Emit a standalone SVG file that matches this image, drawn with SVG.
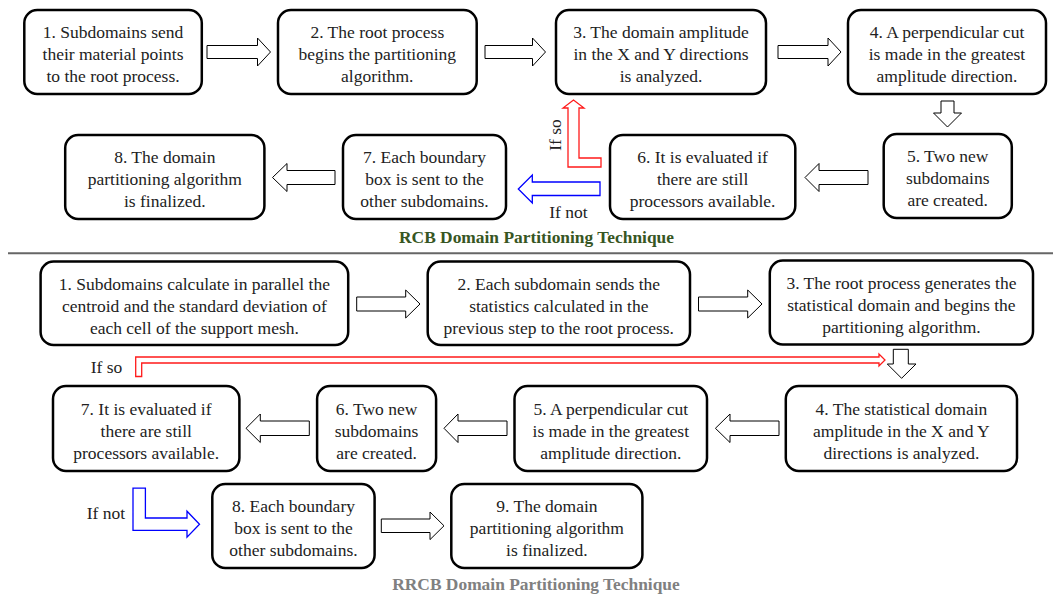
<svg xmlns="http://www.w3.org/2000/svg" width="1053" height="594" viewBox="0 0 1053 594">
<style>
.box{fill:#fff;stroke:#000;stroke-width:2.5}
.t{font-family:"Liberation Serif","Times New Roman",serif;font-size:17.5px;fill:#222;text-anchor:middle}
.l{font-family:"Liberation Serif","Times New Roman",serif;font-size:17.5px;fill:#222}
.arr{fill:#fff;stroke:#000;stroke-width:1}
.red{fill:#fff;stroke:#ff1a1a;stroke-width:1.3}
.blue{fill:#fff;stroke:#0000ff;stroke-width:1.3}
.title{font-family:"Liberation Serif","Times New Roman",serif;font-size:17.4px;font-weight:bold;text-anchor:middle}
</style>
<rect width="1053" height="594" fill="#fff"/>

<!-- RCB section -->
<g id="rcb1"><rect class="box" x="24.3" y="10" width="177.5" height="84" rx="13"/>
<text class="t"><tspan x="113" y="38">1. Subdomains send</tspan><tspan x="113" y="60">their material points</tspan><tspan x="113" y="82">to the root process.</tspan></text></g>
<g id="rcb2"><rect class="box" x="278" y="10" width="198.7" height="84" rx="13"/>
<text class="t"><tspan x="377.3" y="38">2. The root process</tspan><tspan x="377.3" y="60">begins the partitioning</tspan><tspan x="377.3" y="82">algorithm.</tspan></text></g>
<g id="rcb3"><rect class="box" x="556" y="10" width="210" height="84" rx="13"/>
<text class="t"><tspan x="661" y="38">3. The domain amplitude</tspan><tspan x="661" y="60">in the X and Y directions</tspan><tspan x="661" y="82">is analyzed.</tspan></text></g>
<g id="rcb4"><rect class="box" x="848" y="10" width="198" height="84" rx="13"/>
<text class="t"><tspan x="947" y="38">4. A perpendicular cut</tspan><tspan x="947" y="60">is made in the greatest</tspan><tspan x="947" y="82">amplitude direction.</tspan></text></g>
<g id="rcb5"><rect class="box" x="883.7" y="134" width="128.1" height="84" rx="13"/>
<text class="t"><tspan x="947.7" y="162">5. Two new</tspan><tspan x="947.7" y="184">subdomains</tspan><tspan x="947.7" y="206">are created.</tspan></text></g>
<g id="rcb6"><rect class="box" x="610" y="135" width="185.3" height="84" rx="13"/>
<text class="t"><tspan x="702.6" y="163">6. It is evaluated if</tspan><tspan x="702.6" y="185">there are still</tspan><tspan x="702.6" y="207">processors available.</tspan></text></g>
<g id="rcb7"><rect class="box" x="343" y="135" width="163" height="84" rx="13"/>
<text class="t"><tspan x="424.5" y="163">7. Each boundary</tspan><tspan x="424.5" y="185">box is sent to the</tspan><tspan x="424.5" y="207">other subdomains.</tspan></text></g>
<g id="rcb8"><rect class="box" x="65.2" y="135" width="199.2" height="84" rx="13"/>
<text class="t"><tspan x="164.8" y="163">8. The domain</tspan><tspan x="164.8" y="185">partitioning algorithm</tspan><tspan x="164.8" y="207">is finalized.</tspan></text></g>

<text class="title" x="536.5" y="242.5" fill="#375623">RCB Domain Partitioning Technique</text>
<line x1="8" y1="253.3" x2="1053" y2="253.3" stroke="#666" stroke-width="2"/>

<!-- RRCB section -->
<g id="rrcb1"><rect class="box" x="40.6" y="261.5" width="307.6" height="83.5" rx="13"/>
<text class="t"><tspan x="194.4" y="289.5">1. Subdomains calculate in parallel the</tspan><tspan x="194.4" y="311.5">centroid and the standard deviation of</tspan><tspan x="194.4" y="333.5">each cell of the support mesh.</tspan></text></g>
<g id="rrcb2"><rect class="box" x="427.7" y="261.5" width="262.3" height="83.5" rx="13"/>
<text class="t"><tspan x="558.8" y="289.5">2. Each subdomain sends the</tspan><tspan x="558.8" y="311.5">statistics calculated in the</tspan><tspan x="558.8" y="333.5">previous step to the root process.</tspan></text></g>
<g id="rrcb3"><rect class="box" x="769.8" y="260.5" width="263.2" height="84" rx="13"/>
<text class="t"><tspan x="901.4" y="289">3. The root process generates the</tspan><tspan x="901.4" y="311">statistical domain and begins the</tspan><tspan x="901.4" y="333">partitioning algorithm.</tspan></text></g>
<g id="rrcb4"><rect class="box" x="785.8" y="386" width="231.2" height="85" rx="13"/>
<text class="t"><tspan x="901.4" y="414.5">4. The statistical domain</tspan><tspan x="901.4" y="436.5">amplitude in the X and Y</tspan><tspan x="901.4" y="458.5">directions is analyzed.</tspan></text></g>
<g id="rrcb5"><rect class="box" x="514.5" y="386" width="192.5" height="85" rx="13"/>
<text class="t"><tspan x="610.8" y="414.5">5. A perpendicular cut</tspan><tspan x="610.8" y="436.5">is made in the greatest</tspan><tspan x="610.8" y="458.5">amplitude direction.</tspan></text></g>
<g id="rrcb6"><rect class="box" x="317.1" y="386" width="119" height="85" rx="13"/>
<text class="t"><tspan x="376.6" y="414.5">6. Two new</tspan><tspan x="376.6" y="436.5">subdomains</tspan><tspan x="376.6" y="458.5">are created.</tspan></text></g>
<g id="rrcb7"><rect class="box" x="53" y="386" width="186.4" height="85" rx="13"/>
<text class="t"><tspan x="146.2" y="414.5">7. It is evaluated if</tspan><tspan x="146.2" y="436.5">there are still</tspan><tspan x="146.2" y="458.5">processors available.</tspan></text></g>
<g id="rrcb8"><rect class="box" x="212.3" y="484" width="162.3" height="84" rx="13"/>
<text class="t"><tspan x="293.5" y="512">8. Each boundary</tspan><tspan x="293.5" y="534">box is sent to the</tspan><tspan x="293.5" y="556">other subdomains.</tspan></text></g>
<g id="rrcb9"><rect class="box" x="451.3" y="484" width="191.1" height="84" rx="13"/>
<text class="t"><tspan x="546.9" y="512">9. The domain</tspan><tspan x="546.9" y="534">partitioning algorithm</tspan><tspan x="546.9" y="556">is finalized.</tspan></text></g>

<text class="title" x="536" y="590" fill="#808080">RRCB Domain Partitioning Technique</text>

<g id="connectors">
<!-- RCB -->
<path class="arr" d="M207,45.5 H257.5 V38 L270.5,52 L257.5,66 V58.5 H207 Z"/>
<path class="arr" d="M485,45.5 H532.5 V38 L545.5,52 L532.5,66 V58.5 H485 Z"/>
<path class="arr" d="M778,45.5 H828 V38 L841,52 L828,66 V58.5 H778 Z"/>
<path class="arr" d="M941,101 H954 V113 H961.5 L947.5,127 L933.5,113 H941 Z"/>
<path class="arr" d="M868,170.5 H819 V163.5 L805,177.5 L819,191.5 V184.5 H868 Z"/>
<path class="arr" d="M335,170.5 H287 V163.5 L272.5,177.5 L287,191.5 V184.5 H335 Z"/>
<path class="blue" d="M600,182 H532.3 V175 L518.3,189 L532.3,203 V195.5 H600 Z"/>
<path class="red" d="M601,158 H579 V108 H584 L573.5,100 L563,108 H568 V167 H601 Z"/>
<text class="l" transform="translate(561,135) rotate(-90)" text-anchor="middle">If so</text>
<text class="l" x="568.5" y="218" text-anchor="middle">If not</text>
<!-- RRCB -->
<path class="arr" d="M356.7,297 H405.7 V290 L420,304 L405.7,318 V311 H356.7 Z"/>
<path class="arr" d="M698.5,297 H747.7 V290 L762,304 L747.7,318 V311 H698.5 Z"/>
<path class="red" d="M135.7,376.5 V357 H879 V354 L885,360 L879,366 V363 H141.7 V376.5 Z"/>
<text class="l" x="106.5" y="373" text-anchor="middle">If so</text>
<path class="arr" d="M893.3,349.3 H908.3 V364 H916 L901.6,378.3 L887.3,364 H893.3 Z"/>
<path class="arr" d="M779,421 H730 V414 L715.4,428.3 L730,442.5 V435.5 H779 Z"/>
<path class="arr" d="M507,421 H458 V414 L444,428.3 L458,442.5 V435.5 H507 Z"/>
<path class="arr" d="M309.3,421 H260.3 V414 L246,428.3 L260.3,442.5 V435.5 H309.3 Z"/>
<path class="blue" d="M133,488.2 H145.4 V518 H187 V511.2 L199.5,524.2 L187,537.2 V530.4 H133 Z"/>
<text class="l" x="106" y="518.6" text-anchor="middle">If not</text>
<path class="arr" d="M381.3,519 H430 V512 L444,525.8 L430,539.6 V532.5 H381.3 Z"/>
</g>
</svg>
